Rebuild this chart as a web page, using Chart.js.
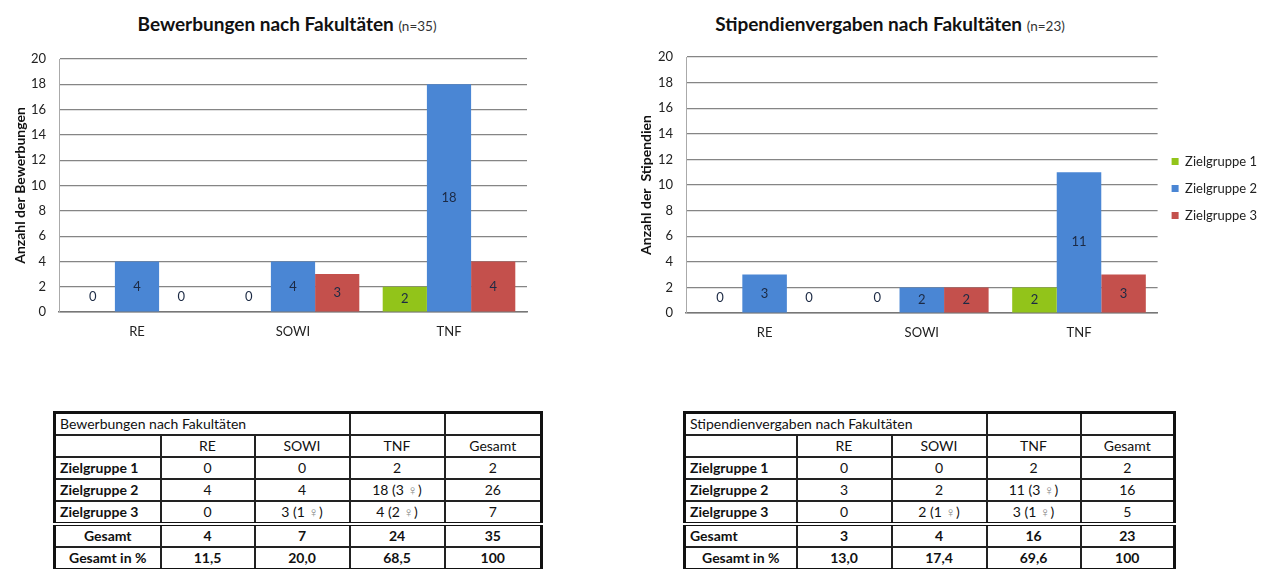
<!DOCTYPE html>
<html lang="de">
<head>
<meta charset="utf-8">
<script src="https://cdn.jsdelivr.net/npm/chart.js@4.4.1/dist/chart.umd.min.js"></script>
<style>
  html, body { margin: 0; padding: 0; background: #fff; }
  body { width: 1278px; height: 569px; overflow: hidden; position: relative; font-family: Lato, "Open Sans", sans-serif; color: #111; }
  .title { position: absolute; top: 12px; text-align: center; font-weight: bold; font-size: 19px; white-space: nowrap; }
  .title small { font-weight: normal; font-size: 13.5px; color: #333; }
  .chart { position: absolute; top: 0; }
  table { position: absolute; top: 411px; border-collapse: collapse; border: 3px solid #111; font-size: 14px; table-layout: fixed; }
  td { border: 2px solid #222; height: 20px; line-height: 20px; padding: 0 4px; text-align: center; white-space: nowrap; overflow: hidden; }
  td.lbl { text-align: left; font-weight: bold; }
  tr.sum td { border-top: 4px double #111; font-weight: bold; }
  tr.pct td { font-weight: bold; }
  .w { color: #888; }
</style>
</head>
<body>
<div class="title" style="left:0; width:574px;">Bewerbungen nach Fakultäten <small>(n=35)</small></div>
<div class="title" style="left:630px; width:520px;">Stipendienvergaben nach Fakultäten <small>(n=23)</small></div>
<canvas id="chartLeft" class="chart" style="left:0;" width="560" height="348"></canvas>
<canvas id="chartRight" class="chart" style="left:630px;" width="648" height="348"></canvas>
<table id="tableLeft" style="left:53px; width:487px;"></table>
<table id="tableRight" style="left:683px; width:490px;"></table>

<script>
// --- Data ---
const faculties = ['RE', 'SOWI', 'TNF'];
const groups = ['Zielgruppe 1', 'Zielgruppe 2', 'Zielgruppe 3'];
const groupColors = ['#92C41A', '#4A86D4', '#C4504C'];
const yTicks = [0, 2, 4, 6, 8, 10, 12, 14, 16, 18, 20];

const bewerbungenZG1 = [0, 0, 2];
const bewerbungenZG2 = [4, 4, 18];
const bewerbungenZG3 = [0, 3, 4];
const bewerbungenWomenZG2 = [null, null, 3];
const bewerbungenWomenZG3 = [null, 1, 2];
const bewerbungenPercent = ['11,5', '20,0', '68,5', '100'];

const stipendienZG1 = [0, 0, 2];
const stipendienZG2 = [3, 2, 11];
const stipendienZG3 = [0, 2, 3];
const stipendienWomenZG2 = [null, null, 3];
const stipendienWomenZG3 = [null, 1, 1];
const stipendienPercent = ['13,0', '17,4', '69,6', '100'];

const FONT = 'Lato, sans-serif';

// --- Value labels in the bars ---
const valueLabels = {
    id: 'valueLabels',
    afterDatasetsDraw(chart) {
        const ctx = chart.ctx;
        ctx.save();
        ctx.font = '13px ' + FONT;
        ctx.fillStyle = '#1c2a44';
        ctx.textAlign = 'center';
        ctx.textBaseline = 'middle';
        chart.data.datasets.forEach((ds, i) => {
            chart.getDatasetMeta(i).data.forEach((bar, j) => {
                const v = ds.data[j];
                const y = v === 0 ? bar.base - 15 : (bar.y + bar.base) / 2;
                ctx.fillText(String(v), bar.x, y);
            });
        });
        ctx.restore();
    }
};

// nudge the right-hand legend up a little (Excel centres it on the plot)
const legendShift = {
    id: 'legendShift',
    afterLayout(chart, args, opts) {
        if (chart.legend && opts.dy) {
            chart.legend.top += opts.dy;
            chart.legend.bottom += opts.dy;
        }
    }
};

function makeChart(id, series, yTitle, opts) {
    return new Chart(document.getElementById(id), {
        type: 'bar',
        data: {
            labels: faculties,
            datasets: series.map((data, i) => ({
                label: groups[i],
                data: data,
                backgroundColor: groupColors[i],
                borderWidth: 0,
                barPercentage: 1,
                categoryPercentage: 0.85
            }))
        },
        options: {
            responsive: false,
            devicePixelRatio: 1,
            animation: false,
            layout: { padding: { top: opts.top, right: opts.right, left: 0, bottom: 0 } },
            plugins: {
                legend: opts.legend ? {
                    display: true,
                    position: 'right',
                    labels: {
                        boxWidth: 7, boxHeight: 7, padding: 14,
                        color: '#222',
                        font: { family: FONT, size: 13 }
                    }
                } : { display: false },
                legendShift: { dy: opts.legendDy || 0 },
                tooltip: { enabled: false }
            },
            scales: {
                x: {
                    grid: { display: false, drawTicks: false },
                    border: { display: true, color: '#777', width: 1.5 },
                    ticks: { color: '#222', padding: 12, font: { family: FONT, size: 13 } },
                    afterFit: (s) => { s.height = opts.xHeight; }
                },
                y: {
                    min: 0, max: 20,
                    afterBuildTicks: (s) => { s.ticks = yTicks.map(v => ({ value: v })); },
                    grid: { color: '#858585', lineWidth: 1.2, drawTicks: false },
                    border: { display: true, color: '#aaa' },
                    ticks: { color: '#222', padding: 13, font: { family: FONT, size: 13 } },
                    title: {
                        display: true, text: yTitle, color: '#111',
                        font: { family: FONT, size: 14, weight: 'bold' },
                        padding: { top: opts.titlePad, bottom: 0 }
                    },
                    afterFit: (s) => { s.width = opts.yWidth; }
                }
            }
        },
        plugins: [valueLabels, legendShift]
    });
}

makeChart('chartLeft', [bewerbungenZG1, bewerbungenZG2, bewerbungenZG3], 'Anzahl der Bewerbungen',
    { top: 59, right: 33, xHeight: 36, yWidth: 59, titlePad: 12, legend: false });
makeChart('chartRight', [stipendienZG1, stipendienZG2, stipendienZG3], 'Anzahl der  Stipendien',
    { top: 57, right: 11, xHeight: 35, yWidth: 56, titlePad: 8, legend: true, legendDy: -14 });

// --- Tables ---
function cellText(v, w) {
    return w == null ? String(v) : v + ' (' + w + ' <span class="w">\u2640</span>)';
}

function buildTable(id, title, series, women, percent, colWidths, sumAlign) {
    const sums = faculties.map((_, j) => series.reduce((a, s) => a + s[j], 0));
    const total = sums.reduce((a, b) => a + b, 0);
    let html = '<colgroup>' + colWidths.map(w => '<col style="width:' + w + 'px">').join('') + '</colgroup>';
    html += '<tr><td class="lbl" colspan="3" style="font-weight:normal">' + title + '</td><td></td><td></td></tr>';
    html += '<tr><td></td>' + faculties.map(f => '<td>' + f + '</td>').join('') + '<td>Gesamt</td></tr>';
    series.forEach((s, i) => {
        const w = women[i] || [];
        html += '<tr><td class="lbl">' + groups[i] + '</td>' +
            s.map((v, j) => '<td>' + cellText(v, w[j]) + '</td>').join('') +
            '<td>' + s.reduce((a, b) => a + b, 0) + '</td></tr>';
    });
    html += '<tr class="sum"><td style="text-align:' + sumAlign + '">Gesamt</td>' +
        sums.map(v => '<td>' + v + '</td>').join('') + '<td>' + total + '</td></tr>';
    html += '<tr class="pct"><td>Gesamt in %</td>' + percent.map(p => '<td>' + p + '</td>').join('') + '</tr>';
    document.getElementById(id).innerHTML = html;
}

buildTable('tableLeft', 'Bewerbungen nach Fakultäten',
    [bewerbungenZG1, bewerbungenZG2, bewerbungenZG3],
    [null, bewerbungenWomenZG2, bewerbungenWomenZG3],
    bewerbungenPercent, [106, 94, 95, 95, 97], 'center');
buildTable('tableRight', 'Stipendienvergaben nach Fakultäten',
    [stipendienZG1, stipendienZG2, stipendienZG3],
    [null, stipendienWomenZG2, stipendienWomenZG3],
    stipendienPercent, [112, 95, 95, 94, 94], 'left');
</script>
</body>
</html>
